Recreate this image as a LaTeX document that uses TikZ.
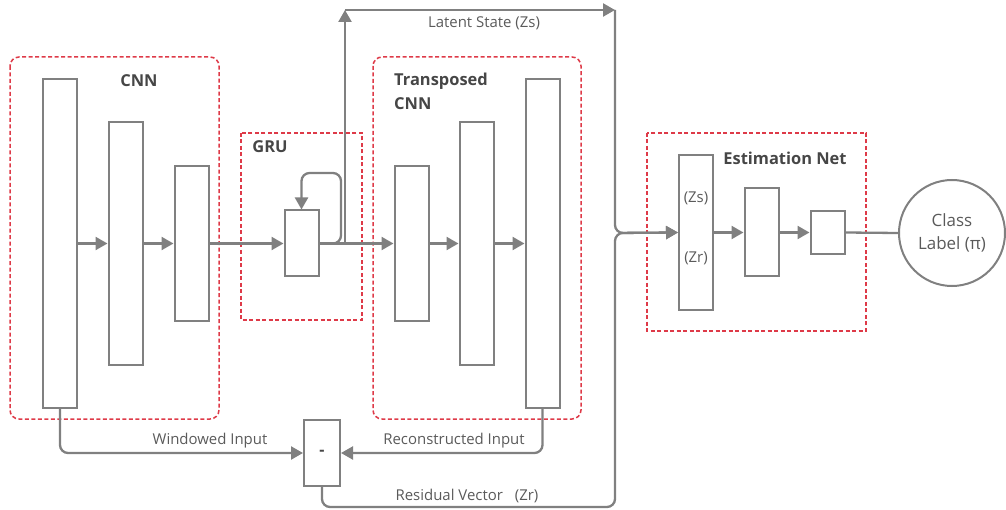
\documentclass[tikz,border=0pt]{standalone}
\usepackage{fontspec}
\setmainfont{Open Sans}
\usetikzlibrary{arrows.meta}
\definecolor{linegray}{RGB}{128,128,128}
\definecolor{txtgray}{RGB}{90,90,90}
\definecolor{titlegray}{RGB}{70,70,70}
\definecolor{groupred}{RGB}{222,58,72}

\begin{document}
\begin{tikzpicture}[x=1bp,y=-1bp,
  bar/.style={draw=linegray, line width=2bp, fill=white, inner sep=0pt, minimum width=34bp},
  conn/.style={draw=linegray, line width=2.3bp},
  arr/.style={conn, -{Triangle[length=12bp,width=13bp]}},
  group/.style={draw=groupred, line width=1.5bp, dash pattern=on 4bp off 2.5bp},
  title/.style={text=titlegray, inner sep=0pt, font=\fontsize{16.5}{24}\selectfont\bfseries},
  lbl/.style={text=txtgray, inner sep=0pt, font=\fontsize{15}{18}\selectfont},
]
\useasboundingbox (0,0) rectangle (1006,510);

% group frames
\draw[group, rounded corners=9bp] (10,57) rectangle (219,419);
\draw[group, rounded corners=9bp] (373,57) rectangle (581,419);
\draw[group] (241,133) rectangle (362,320);
\draw[group] (647,133) rectangle (866,331);

% titles
\node[title] (tcnn) at (139,81) {CNN};
\node[title] (tgru) at (270,147) {GRU};
\node[title, anchor=north west, align=left] (ttcnn) at (394,73) {Transposed\\CNN};
\node[title] (test) at (785,158) {Estimation Net};

% encoder
\node[bar, minimum height=329bp] (c1) at (60,243.5) {};
\node[bar, minimum height=243bp] (c2) at (125.5,243.5) {};
\node[bar, minimum height=155bp] (c3) at (191.5,243.5) {};

% recurrent cell
\node[bar, minimum height=66bp] (gru) at (301.5,243.5) {};

% decoder
\node[bar, minimum height=155bp] (t1) at (411.5,243.5) {};
\node[bar, minimum height=243bp] (t2) at (476.5,243.5) {};
\node[bar, minimum height=329bp] (t3) at (542.5,243.5) {};

% estimation network
\node[bar, minimum height=155bp] (e1) at (696,232.5) {};
\node[lbl] (ezs) at (696,198) {(Zs)};
\node[lbl] (ezr) at (696,258) {(Zr)};
\node[bar, minimum height=88bp] (e2) at (761.5,232.5) {};
\node[bar, minimum height=43bp] (e3) at (827.5,232.5) {};
\node[circle, draw=linegray, line width=2bp, minimum size=106bp, inner sep=0pt,
      align=center, text=txtgray, font=\fontsize{17}{23}\selectfont] (cls) at (952,233) {Class\\Label (π)};

% subtraction
\node[bar, minimum width=36bp, minimum height=66bp, font=\fontsize{16}{19}\selectfont\bfseries, text=titlegray] (minus) at (322,453) {-};

% helper points
\coordinate (lp) at (341,173);
\coordinate (lt) at (345,10);
\coordinate (rt) at (615,10);
\coordinate (j) at (615,233);
\coordinate (rb) at (615,507);

% forward connections
\draw[arr] (c1.east) -- (c2.west);
\draw[arr] (c2.east) -- (c3.west);
\draw[arr] (c3.east) -- (gru.west);
\draw[arr] (gru.east) -- (t1.west);
\draw[arr] (t1.east) -- (t2.west);
\draw[arr] (t2.east) -- (t3.west);
\draw[arr] (e1.east) -- (e2.west);
\draw[arr] (e2.east) -- (e3.west);
\draw[conn] (e3.east) -- (cls.west);

% recurrence loop
\draw[arr, rounded corners=8bp] (gru.east) -| (lp) -| (gru.north);

% latent state path
\draw[arr] (lt |- gru.east) -- (lt);
\draw[arr] (lt) -- (rt);
\draw[arr, rounded corners=8bp] (rt) -- (j) -- (e1.west);
\node[lbl] (llat) at (484,23) {Latent State (Zs)};

% residual computation
\draw[arr, rounded corners=8bp] (c1.south) |- (minus.west);
\draw[arr, rounded corners=8bp] (t3.south) |- (minus.east);
\draw[arr, rounded corners=8bp] (minus.south) |- (rb) -- (j) -- (e1.west);
\node[lbl] (lwin) at (210,441) {Windowed Input};
\node[lbl] (lrec) at (454,441) {Reconstructed Input};
\node[lbl] (lres) at (467,496) {Residual Vector\hspace{0.8em}(Zr)};
\end{tikzpicture}
\end{document}
